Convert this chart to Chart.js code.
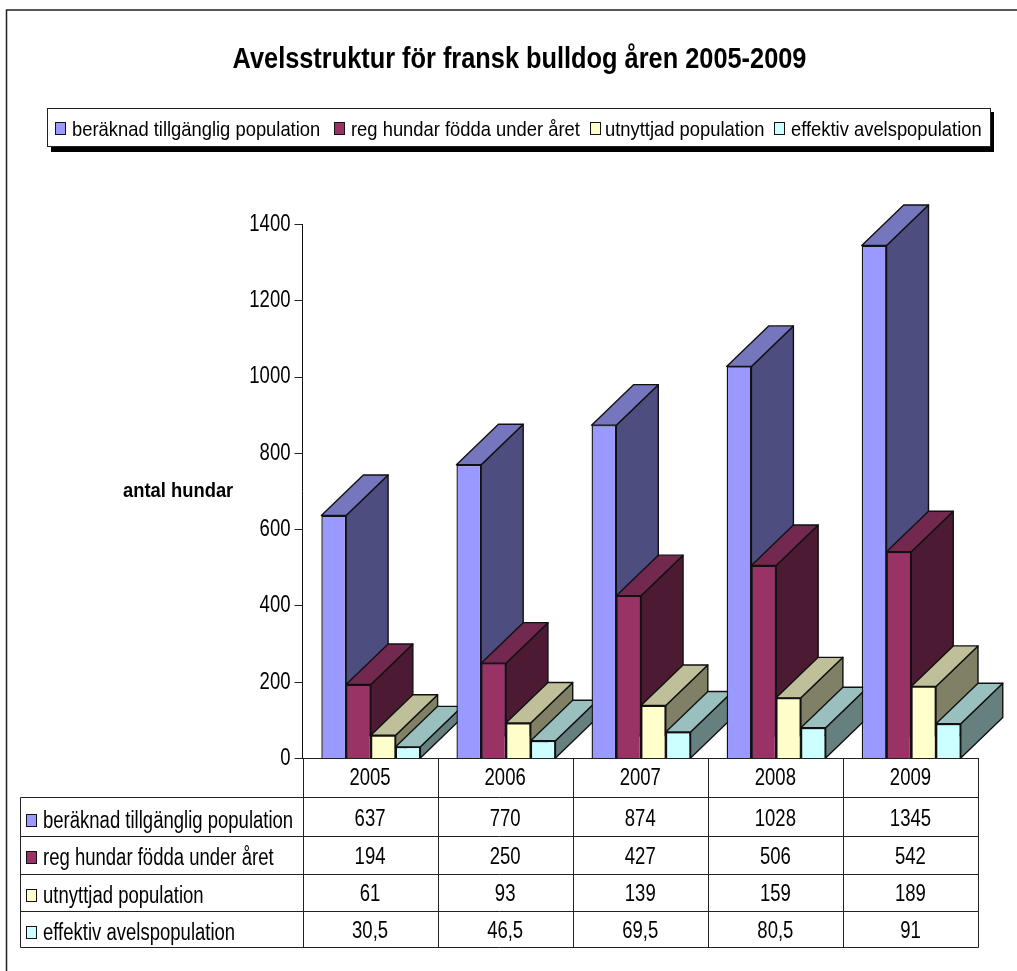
<!DOCTYPE html>
<html>
<head>
<meta charset="utf-8">
<style>html,body{margin:0;padding:0;background:#fff}canvas{display:block}</style>
<script src="https://cdn.jsdelivr.net/npm/chart.js@4"></script>
</head>
<body>
<canvas id="c" width="1017" height="971"></canvas>
<script>
const titleText = 'Avelsstruktur för fransk bulldog åren 2005-2009';
const yTitle = 'antal hundar';
const years = ['2005', '2006', '2007', '2008', '2009'];
const seriesNames = ['beräknad tillgänglig population', 'reg hundar födda under året', 'utnyttjad population', 'effektiv avelspopulation'];
const tillganglig = [637, 770, 874, 1028, 1345];
const registrerade = [194, 250, 427, 506, 542];
const utnyttjad = [61, 93, 139, 159, 189];
const effektiv = [30.5, 46.5, 69.5, 80.5, 91];
const frontColors = ['#9999FF', '#993366', '#FFFFCC', '#CCFFFF'];
const topColors = ['#7676BE', '#73284F', '#BFBF99', '#99BFBF'];
const sideColors = ['#4D4D80', '#4D1A33', '#808066', '#668080'];

const FONT = '"Liberation Sans",Arial,sans-serif';
const INK = '#111';
const DX = 42, DY = 40.5;
const values = [tillganglig, registrerade, utnyttjad, effektiv];
const legendSwatchX = [55, 334, 590, 774];
const legendTextX = [72, 351, 605, 791];
const rowLines = [797.5, 836.5, 874.5, 911.5, 947.5];
const rowBaselines = [826, 864, 901, 938];
const labelBaselines = [828, 865, 903, 940];
const swatchTops = [814, 851, 889, 926];

const canvas = document.getElementById('c');
const ctx0 = canvas.getContext('2d');
// The reference text is horizontally condensed: narrow every glyph run around its anchor.
const condense = { 21: 0.875, 23: 0.805, 30: 0.845 };
const plainFillText = ctx0.fillText.bind(ctx0);
ctx0.fillText = function (text, x, y) {
  const m = /(\d+(?:\.\d+)?)px/.exec(ctx0.font);
  const sx = (m && condense[m[1]]) || 1;
  ctx0.save();
  ctx0.translate(x, y);
  ctx0.scale(sx, 1);
  plainFillText(text, 0, 0);
  ctx0.restore();
};

function box(ctx, x, y, w, h, fill) {
  ctx.fillStyle = fill;
  ctx.strokeStyle = INK;
  ctx.lineWidth = 1;
  ctx.fillRect(x, y, w, h);
  ctx.strokeRect(x + .5, y + .5, w - 1, h - 1);
}
function poly(ctx, pts, fill) {
  ctx.beginPath();
  pts.forEach((p, i) => i ? ctx.lineTo(p[0], p[1]) : ctx.moveTo(p[0], p[1]));
  ctx.closePath();
  ctx.fillStyle = fill;
  ctx.fill();
  ctx.strokeStyle = INK;
  ctx.lineWidth = 1.4;
  ctx.lineJoin = 'round';
  ctx.stroke();
}

const furniture = {
  id: 'furniture',
  beforeDraw(chart) {
    const ctx = chart.ctx;
    ctx.save();
    ctx.fillStyle = '#fff';
    ctx.fillRect(0, 0, chart.width, chart.height);
    ctx.strokeStyle = '#222';
    ctx.lineWidth = 1.5;
    ctx.beginPath();
    ctx.moveTo(6.5, chart.height);
    ctx.lineTo(6.5, 10);
    ctx.lineTo(chart.width, 10);
    ctx.stroke();
    ctx.fillStyle = '#000';
    ctx.fillRect(51, 112, 943, 40);
    ctx.fillStyle = '#fff';
    ctx.fillRect(47.5, 108, 943, 39);
    ctx.strokeStyle = '#222';
    ctx.lineWidth = 1;
    ctx.strokeRect(47.5, 108.5, 943, 38);
    ctx.textAlign = 'left';
    ctx.textBaseline = 'alphabetic';
    ctx.font = '21px ' + FONT;
    seriesNames.forEach((name, i) => {
      box(ctx, legendSwatchX[i], 122, 11, 13, frontColors[i]);
      ctx.fillStyle = '#000';
      ctx.fillText(name, legendTextX[i], 136);
    });
    ctx.font = 'bold 21px ' + FONT;
    ctx.fillStyle = '#000';
    ctx.fillText(yTitle, 123, 497);
    ctx.restore();
  },
  beforeDatasetsDraw(chart) {
    // Paint category by category, back to front, so later groups overlap earlier depth faces.
    const ctx = chart.ctx;
    ctx.save();
    ctx.translate(0.8, 0);
    years.forEach((_, c) => {
      values.forEach((_, s) => {
        const el = chart.getDatasetMeta(s).data[c];
        const l = el.x - el.width / 2, r = el.x + el.width / 2, t = el.y, b = el.base;
        poly(ctx, [[r, t], [r + DX, t - DY], [r + DX, b - DY], [r, b]], sideColors[s]);
        poly(ctx, [[l, t], [l + DX, t - DY], [r + DX, t - DY], [r, t]], topColors[s]);
        el.draw(ctx);
      });
    });
    ctx.restore();
    return false;
  },
  afterDraw(chart) {
    const ctx = chart.ctx, xs = chart.scales.x, area = chart.chartArea;
    const step = xs.getPixelForValue(1) - xs.getPixelForValue(0);
    const edge = i => Math.round(xs.getPixelForValue(0) - step / 2 + i * step) + .5;
    ctx.save();
    ctx.strokeStyle = '#222';
    ctx.lineWidth = 1;
    ctx.beginPath();
    ctx.moveTo(area.left, area.bottom); ctx.lineTo(edge(5), area.bottom);
    rowLines.forEach(y => { ctx.moveTo(20.5, y); ctx.lineTo(edge(5), y); });
    ctx.moveTo(20.5, rowLines[0]); ctx.lineTo(20.5, rowLines[4]);
    for (let i = 0; i <= 5; i++) { ctx.moveTo(edge(i), area.bottom); ctx.lineTo(edge(i), rowLines[4]); }
    ctx.stroke();
    ctx.font = '23px ' + FONT;
    ctx.textBaseline = 'alphabetic';
    seriesNames.forEach((name, s) => {
      box(ctx, 26, swatchTops[s], 11, 13, frontColors[s]);
      ctx.fillStyle = '#000';
      ctx.textAlign = 'left';
      ctx.fillText(name, 43, labelBaselines[s]);
      ctx.textAlign = 'center';
      years.forEach((_, c) => {
        ctx.fillText(String(values[s][c]).replace('.', ','), xs.getPixelForValue(c), rowBaselines[s]);
      });
    });
    ctx.restore();
  }
};

new Chart(canvas, {
  type: 'bar',
  data: {
    labels: years,
    datasets: values.map((v, i) => ({
      label: seriesNames[i],
      data: v,
      backgroundColor: frontColors[i],
      borderColor: INK,
      borderWidth: 1.4,
      categoryPercentage: 0.733,
      barPercentage: 1
    }))
  },
  options: {
    responsive: false,
    animation: false,
    layout: { padding: { left: 61, right: 39, top: 0, bottom: 0 } },
    plugins: {
      legend: { display: false },
      tooltip: { enabled: false },
      title: {
        display: true,
        text: titleText,
        color: '#000',
        font: { family: FONT, size: 30, weight: 'bold' },
        padding: { top: 42, bottom: 146.5 }
      }
    },
    scales: {
      x: {
        afterFit(s) { s.height = 212.5; },
        grid: { display: false, drawTicks: false },
        border: { display: true, color: '#222', width: 1 },
        ticks: { color: '#000', font: { family: FONT, size: 23 }, padding: 6, maxRotation: 0 }
      },
      y: {
        min: 0, max: 1400,
        afterFit(s) { s.width = 241.5; },
        grid: { drawOnChartArea: false, drawTicks: true, tickLength: 8, color: '#222' },
        border: { display: true, color: '#111', width: 1 },
        ticks: { stepSize: 200, color: '#000', font: { family: FONT, size: 23 }, padding: 4, callback: v => String(v) }
      }
    }
  },
  plugins: [furniture]
});
</script>
</body>
</html>
